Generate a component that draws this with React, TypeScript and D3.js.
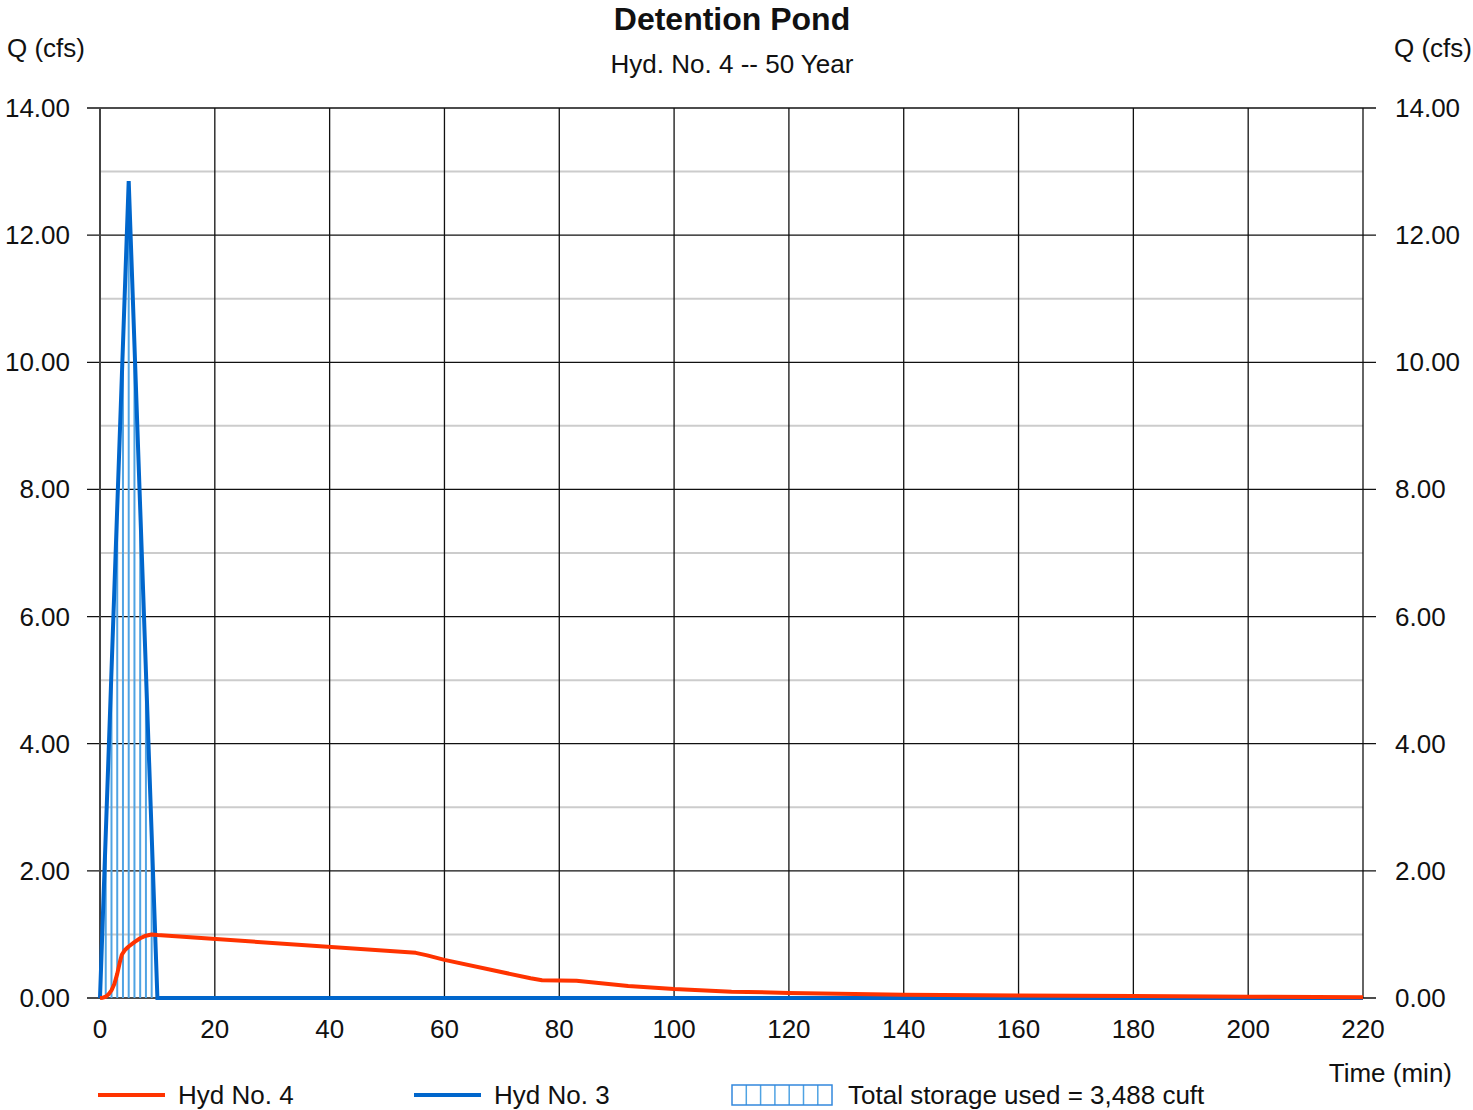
import * as d3 from "d3";
import React, { useEffect, useRef } from "react";

// inflow hydrograph (Hyd No. 3)
const inflowTime: number[] = [0, 5, 10, 220];
const inflowQ: number[] = [0, 12.85, 0, 0];

// outflow hydrograph (Hyd No. 4)
const outflowTime: number[] = [0, 0.5, 1, 1.5, 2, 2.5, 3, 3.5, 3.8, 4.3, 5, 6, 7, 8, 9, 10, 55, 57, 60, 75, 77, 83, 92, 100, 110, 120, 140, 160, 180, 200, 220];
const outflowQ: number[] = [0, 0.005, 0.02, 0.06, 0.12, 0.22, 0.38, 0.58, 0.68, 0.75, 0.81, 0.88, 0.94, 0.98, 1.0, 0.99, 0.71, 0.67, 0.6, 0.31, 0.28, 0.27, 0.19, 0.14, 0.1, 0.08, 0.05, 0.04, 0.03, 0.02, 0.01];

// storage hatch minutes
const hatchTimes: number[] = [1, 2, 3, 4, 5, 6, 7, 8, 9];

const xTicks: number[] = [0, 20, 40, 60, 80, 100, 120, 140, 160, 180, 200, 220];
const yTicks: number[] = [0, 2, 4, 6, 8, 10, 12, 14];
const yMinor: number[] = [1, 3, 5, 7, 9, 11, 13];

const ORANGE = "#ff3300";
const BLUE = "#0066cc";
const HATCH = "#4fa3e3";
const FONT = "'Liberation Sans', Arial, sans-serif";
const FS = 26;

const App = () => {
	const ref = useRef<SVGSVGElement>(null);

	useEffect(() => {
		const svg = d3.select(ref.current);
		svg.selectAll("*").remove();

		const x = d3.scaleLinear().domain([0, 220]).range([100, 1363]);
		const y = d3.scaleLinear().domain([0, 14]).range([998, 108]);

		// minor gray grid
		svg.append("g")
			.selectAll("line")
			.data(yMinor)
			.join("line")
			.attr("x1", x(0))
			.attr("x2", x(220))
			.attr("y1", (d) => y(d))
			.attr("y2", (d) => y(d))
			.attr("stroke", "#cccccc")
			.attr("stroke-width", 2);

		// major horizontal grid + ticks
		svg.append("g")
			.selectAll("line")
			.data(yTicks)
			.join("line")
			.attr("x1", x(0) - 13)
			.attr("x2", x(220) + 13)
			.attr("y1", (d) => y(d))
			.attr("y2", (d) => y(d))
			.attr("stroke", "#111")
			.attr("stroke-width", 1.3);

		// vertical grid
		svg.append("g")
			.selectAll("line")
			.data(xTicks)
			.join("line")
			.attr("x1", (d) => x(d))
			.attr("x2", (d) => x(d))
			.attr("y1", y(14))
			.attr("y2", y(0))
			.attr("stroke", (d) => (d === 0 ? "#444" : "#111"))
			.attr("stroke-width", (d) => (d === 0 ? 2 : 1.3));

		// y labels left and right
		const fmt = d3.format(".2f");
		svg.append("g")
			.selectAll("text")
			.data(yTicks)
			.join("text")
			.attr("x", 70)
			.attr("y", (d) => y(d) + 9)
			.attr("text-anchor", "end")
			.attr("font-family", FONT)
			.attr("font-size", FS)
			.attr("fill", "#111")
			.text((d) => fmt(d));
		svg.append("g")
			.selectAll("text")
			.data(yTicks)
			.join("text")
			.attr("x", 1395)
			.attr("y", (d) => y(d) + 9)
			.attr("text-anchor", "start")
			.attr("font-family", FONT)
			.attr("font-size", FS)
			.attr("fill", "#111")
			.text((d) => fmt(d));

		// x labels
		svg.append("g")
			.selectAll("text")
			.data(xTicks)
			.join("text")
			.attr("x", (d) => x(d))
			.attr("y", 1038)
			.attr("text-anchor", "middle")
			.attr("font-family", FONT)
			.attr("font-size", FS)
			.attr("fill", "#111")
			.text((d) => String(d));

		// storage hatch
		const inflowAt = (t: number) => {
			for (let i = 1; i < inflowTime.length; i++) {
				if (t <= inflowTime[i]) {
					const t0 = inflowTime[i - 1];
					const t1 = inflowTime[i];
					return inflowQ[i - 1] + ((t - t0) / (t1 - t0)) * (inflowQ[i] - inflowQ[i - 1]);
				}
			}
			return 0;
		};
		svg.append("g")
			.selectAll("line")
			.data(hatchTimes)
			.join("line")
			.attr("x1", (d) => x(d))
			.attr("x2", (d) => x(d))
			.attr("y1", y(0))
			.attr("y2", (d) => y(inflowAt(d)))
			.attr("stroke", HATCH)
			.attr("stroke-width", 2);

		const line = d3
			.line<[number, number]>()
			.x((d) => x(d[0]))
			.y((d) => y(d[1]));

		const inflowPts = inflowTime.map((t, i) => [t, inflowQ[i]] as [number, number]);
		const outflowPts = outflowTime.map((t, i) => [t, outflowQ[i]] as [number, number]);

		svg.append("path")
			.datum(inflowPts)
			.attr("fill", "none")
			.attr("stroke", BLUE)
			.attr("stroke-width", 4)
			.attr("d", line);

		svg.append("path")
			.datum(outflowPts)
			.attr("fill", "none")
			.attr("stroke", ORANGE)
			.attr("stroke-width", 4)
			.attr("stroke-linejoin", "round")
			.attr("d", line);

		// titles
		const text = (tx: number, ty: number, s: string, size: number, anchor: string, weight = "normal") =>
			svg.append("text")
				.attr("x", tx)
				.attr("y", ty)
				.attr("text-anchor", anchor)
				.attr("font-family", FONT)
				.attr("font-size", size)
				.attr("font-weight", weight)
				.attr("fill", "#111")
				.text(s);

		text(732, 30, "Detention Pond", 32, "middle", "bold");
		text(732, 73, "Hyd. No. 4 -- 50 Year", FS, "middle");
		text(7, 57, "Q (cfs)", FS, "start");
		text(1472, 57, "Q (cfs)", FS, "end");
		text(1452, 1082, "Time (min)", FS, "end");

		// legend
		svg.append("line")
			.attr("x1", 98).attr("x2", 165)
			.attr("y1", 1095).attr("y2", 1095)
			.attr("stroke", ORANGE).attr("stroke-width", 4);
		text(178, 1104, "Hyd No. 4", FS, "start");
		svg.append("line")
			.attr("x1", 414).attr("x2", 481)
			.attr("y1", 1095).attr("y2", 1095)
			.attr("stroke", BLUE).attr("stroke-width", 4);
		text(494, 1104, "Hyd No. 3", FS, "start");

		const box = svg.append("g");
		box.selectAll("line")
			.data(d3.range(1, 7))
			.join("line")
			.attr("x1", (d) => 732 + d * 14.3)
			.attr("x2", (d) => 732 + d * 14.3)
			.attr("y1", 1085)
			.attr("y2", 1105)
			.attr("stroke", HATCH)
			.attr("stroke-width", 1.5);
		box.append("rect")
			.attr("x", 732).attr("y", 1085)
			.attr("width", 100).attr("height", 20)
			.attr("fill", "none")
			.attr("stroke", "#3388dd")
			.attr("stroke-width", 1.5);
		text(848, 1104, "Total storage used = 3,488 cuft", FS, "start");
	}, []);

	return (
		<svg
			ref={ref}
			width={1473}
			height={1110}
			style={{ position: "absolute", left: 0, top: 0, background: "#fff" }}
		/>
	);
};

export default App;
